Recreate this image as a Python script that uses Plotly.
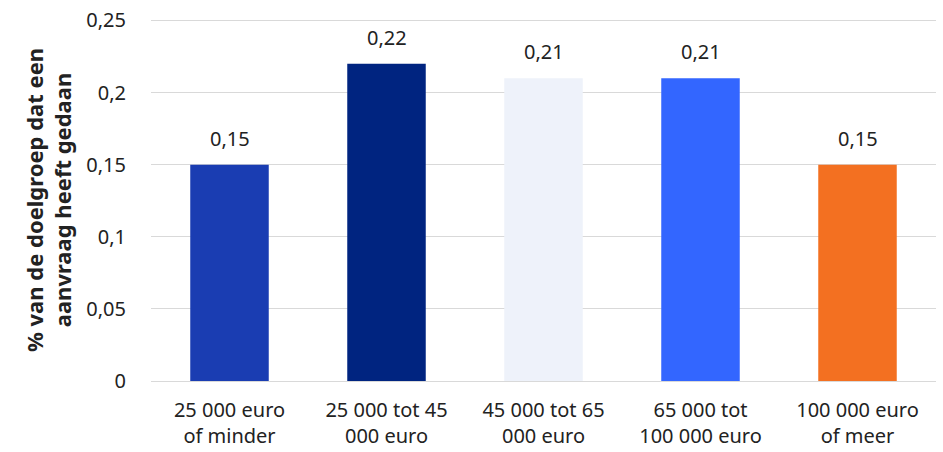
import plotly.graph_objects as go

categories = ["25 000 euro<br>of minder", "25 000 tot 45<br>000 euro", "45 000 tot 65<br>000 euro",
              "65 000 tot<br>100 000 euro", "100 000 euro<br>of meer"]
values = [0.15, 0.22, 0.21, 0.21, 0.15]
labels = ["0,15", "0,22", "0,21", "0,21", "0,15"]
colors = ["#1a3db2", "#002480", "#eef2fa", "#3366ff", "#f37021"]
yticks = [0, 0.05, 0.1, 0.15, 0.2, 0.25]

font = "Noto Sans"
fig = go.Figure(go.Bar(
    x=categories, y=values, marker=dict(color=colors, line=dict(width=0)),
))
for c, v, t in zip(categories, values, labels):
    fig.add_annotation(x=c, y=v, text=t, showarrow=False, yanchor="bottom", yshift=11,
                       font=dict(size=20, color="#222222", family=font))
fig.update_layout(
    width=943, height=452, margin=dict(l=151, r=7, t=19, b=71, autoexpand=False),
    plot_bgcolor="white", paper_bgcolor="white", separators=", ",
    bargap=0.5, showlegend=False,
    font=dict(family=font, size=20, color="#222222"),
)
fig.update_yaxes(range=[0, 0.251], tickvals=yticks, tickformat="~g", showgrid=True,
                 gridcolor="#d9d9d9", gridwidth=1, zeroline=False,
                 ticks="outside", ticklen=20, tickcolor="rgba(0,0,0,0)",
                 tickfont=dict(size=20), automargin=False,
                 title=dict(text="<b>% van de doelgroep dat een<br>aanvraag heeft gedaan</b>",
                            font=dict(size=22), standoff=8))
fig.update_xaxes(showline=True, linecolor="#d9d9d9", linewidth=1, tickfont=dict(size=20),
                 ticks="outside", ticklen=11, tickcolor="rgba(0,0,0,0)", automargin=False)
fig.write_html("out.html", post_script="document.body.style.margin='0';",
               config={"displayModeBar": False})
